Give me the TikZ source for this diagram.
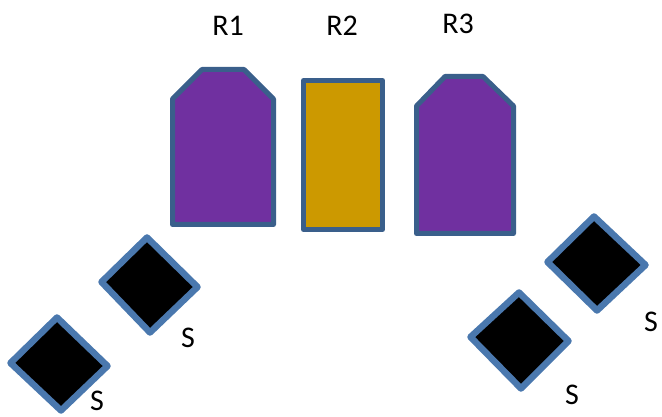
\documentclass[tikz,border=0pt]{standalone}
\usepackage{fontspec}
\setmainfont{Carlito}
\definecolor{rpurple}{HTML}{7030A0}
\definecolor{rgold}{HTML}{CC9900}
\definecolor{rborder}{HTML}{3A5F8B}
\definecolor{sborder}{HTML}{4A78AE}
\begin{document}
\begin{tikzpicture}[x=1pt,y=-1pt,
  rshape/.style={draw=rborder,line width=5pt,line join=round},
  sshape/.style={draw=sborder,fill=black,line width=6.5pt,line join=round},
  lbl/.style={inner sep=0pt,font=\fontsize{30}{33}\selectfont}]
\useasboundingbox (0,0) rectangle (662,417);
% R shapes
\draw[rshape,fill=rpurple] (172.5,224.5) -- (172.5,99) -- (202,69.5) -- (244,69.5) -- (273.5,99) -- (273.5,224.5) -- cycle;
\draw[rshape,fill=rgold] (303.5,80.5) rectangle (382.5,229.5);
\draw[rshape,fill=rpurple] (416.5,233.5) -- (416.5,106) -- (445,76.5) -- (483,76.5) -- (513.5,106) -- (513.5,233.5) -- cycle;
\node[lbl] (r1) at (228,26) {R1};
\node[lbl] (r2) at (342,26) {R2};
\node[lbl] (r3) at (458,24) {R3};
% S diamonds
\draw[sshape] (10.5,363) -- (57,317.5) -- (107.5,366) -- (61,410.5) -- cycle;
\draw[sshape] (101.5,282) -- (147,237.5) -- (197.5,287) -- (150,332.5) -- cycle;
\draw[sshape] (547.5,262) -- (594,216.5) -- (645.5,265) -- (597,310.5) -- cycle;
\draw[sshape] (470.5,337) -- (519,292.5) -- (568.5,341) -- (521,388.5) -- cycle;
\node[lbl] (s1) at (188,338) {S};
\node[lbl] (s2) at (97,401) {S};
\node[lbl] (s3) at (651,322) {S};
\node[lbl] (s4) at (572,395) {S};
\end{tikzpicture}
\end{document}
